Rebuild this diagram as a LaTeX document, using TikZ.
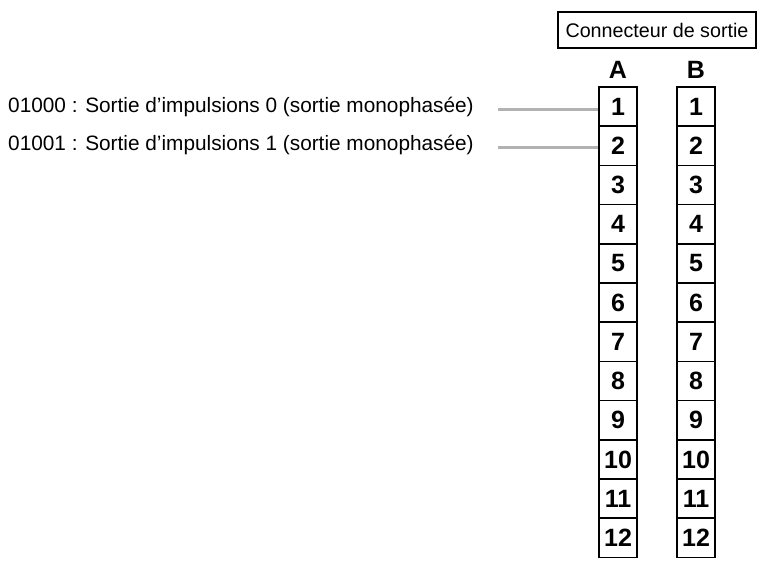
\documentclass[tikz,border=0pt]{standalone}
\usepackage{fontspec}
\setmainfont{Liberation Sans}
\newcommand{\lblfont}{\fontsize{20.8}{23}\selectfont}
\newcommand{\hdrfont}{\fontsize{19.7}{22}\selectfont}
\newcommand{\numfont}{\fontsize{25}{27}\selectfont\bfseries}
\begin{document}
\begin{tikzpicture}[x=1pt,y=-1pt,
  cell/.style={draw,line width=1.6pt,minimum width=38pt,minimum height=39.2pt,inner sep=0pt},
  lbl/.style={anchor=west,inner sep=0pt},
  lead/.style={draw=gray!60,line width=3pt}]
\useasboundingbox (0,0) rectangle (762,565);
\node[draw,line width=1.6pt,minimum width=198pt,minimum height=36pt,inner sep=0pt] (hdr) at (657,30) {\hdrfont Connecteur de sortie};
\node (colA) at (618,70) {\numfont A};
\node (colB) at (696,70) {\numfont B};
\foreach \i in {1,...,12}{
  \node[cell] (a\i) at (618,{87+39.2*(\i-0.5)}) {\numfont\i};
  \node[cell] (b\i) at (696,{87+39.2*(\i-0.5)}) {\numfont\i};
}
\node[lbl] (l1) at (8,107) {\lblfont 01000 : Sortie d’impulsions 0 (sortie monophasée)};
\node[lbl] (l2) at (8,145) {\lblfont 01001 : Sortie d’impulsions 1 (sortie monophasée)};
\coordinate (s1) at (498,109);
\coordinate (s2) at (498,147);
\draw[lead] (s1) -- (a1.west |- s1);
\draw[lead] (s2) -- (a2.west |- s2);
\end{tikzpicture}
\end{document}
